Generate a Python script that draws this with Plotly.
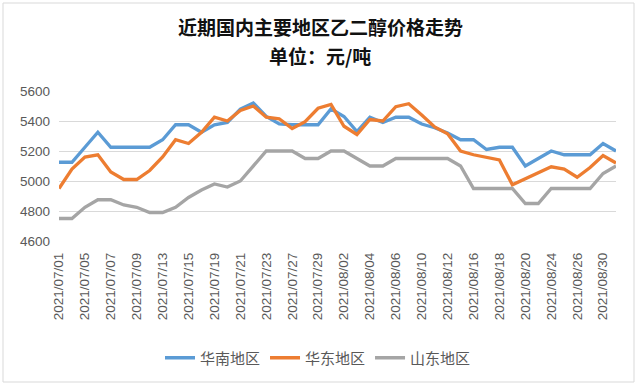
import plotly.graph_objects as go

dates = ["2021/07/01","2021/07/02","2021/07/05","2021/07/06","2021/07/07","2021/07/08","2021/07/09",
         "2021/07/12","2021/07/13","2021/07/14","2021/07/15","2021/07/16",
         "2021/07/19","2021/07/20","2021/07/21","2021/07/22","2021/07/23",
         "2021/07/26","2021/07/27","2021/07/28","2021/07/29","2021/07/30",
         "2021/08/02","2021/08/03","2021/08/04","2021/08/05","2021/08/06",
         "2021/08/09","2021/08/10","2021/08/11","2021/08/12","2021/08/13",
         "2021/08/16","2021/08/17","2021/08/18","2021/08/19","2021/08/20",
         "2021/08/23","2021/08/24","2021/08/25","2021/08/26","2021/08/27",
         "2021/08/30","2021/08/31"]

south_china = [5125,5125,5225,5325,5225,5225,5225,5225,5275,5375,5375,5325,5375,5390,5480,5520,
               5430,5380,5375,5375,5375,5480,5430,5330,5425,5390,5425,5425,5380,5355,5320,5275,
               5275,5210,5225,5225,5100,5150,5200,5175,5175,5175,5250,5200]
east_china = [4950,5080,5160,5175,5060,5010,5010,5070,5160,5275,5250,5325,5425,5400,5470,5500,
              5425,5415,5350,5395,5485,5510,5365,5310,5410,5400,5495,5515,5440,5360,5315,5200,
              5175,5155,5140,4975,5015,5060,5095,5080,5025,5090,5170,5120]
shandong = [4750,4750,4825,4875,4875,4840,4825,4790,4790,4825,4890,4940,4980,4960,5000,5100,
            5200,5200,5200,5150,5150,5200,5200,5150,5100,5100,5150,5150,5150,5150,5150,5100,
            4950,4950,4950,4950,4850,4850,4950,4950,4950,4950,5050,5100]

series_names = ["华南地区", "华东地区", "山东地区"]
series_colors = ["#5B9BD5", "#ED7D31", "#A5A5A5"]
tick_labels = dates[::2]
y_ticks = [4600, 4800, 5000, 5200, 5400, 5600]
title_lines = ["近期国内主要地区乙二醇价格走势", "单位：元/吨"]

fig = go.Figure()
for name, vals, col in zip(series_names, [south_china, east_china, shandong], series_colors):
    fig.add_trace(go.Scatter(x=dates, y=vals, name=name, mode="lines",
                             line=dict(color=col, width=3.3)))

L, R, T, B = 59, 24, 91, 145
W, H = 640, 386
pw, ph = W - L - R, H - T - B

def px(x):
    return (x - L) / pw

def py(y):
    return (H - B - y) / ph

title_font = dict(family="Noto Sans CJK SC", size=19, color="#111111", weight="bold")
annotations = [
    dict(text=title_lines[0], x=px(320), y=py(26), xref="paper", yref="paper",
         xanchor="center", yanchor="middle", showarrow=False, font=title_font),
    dict(text=title_lines[1], x=px(320), y=py(55), xref="paper", yref="paper",
         xanchor="center", yanchor="middle", showarrow=False, font=title_font),
]

fig.update_layout(
    width=W, height=H,
    margin=dict(l=L, r=R, t=T, b=B, autoexpand=False),
    paper_bgcolor="white", plot_bgcolor="white",
    annotations=annotations,
    xaxis=dict(type="category", tickmode="array", tickvals=tick_labels, ticktext=tick_labels,
               tickangle=-90, showgrid=False, showline=False, ticks="", automargin=False,
               tickfont=dict(family="Liberation Sans, Arial", size=13.5, color="#595959"),
               ticklabelstandoff=8),
    yaxis=dict(range=[4600, 5600], tickvals=y_ticks, showgrid=True, gridcolor="#D9D9D9",
               gridwidth=1, zeroline=False, showline=False, ticks="", automargin=False,
               tickfont=dict(family="Liberation Sans, Arial", size=13.5, color="#595959"),
               ticklabelstandoff=8),
    legend=dict(orientation="h", x=318 / W, xref="container", xanchor="center",
                y=1 - 358 / H, yref="container", yanchor="middle",
                font=dict(family="Noto Sans CJK SC", size=15, color="#595959"),
                itemwidth=30, tracegroupgap=0, bgcolor="rgba(0,0,0,0)"),
    shapes=[dict(type="rect", xref="paper", yref="paper",
                 x0=px(3), x1=px(634), y0=py(382), y1=py(3),
                 line=dict(color="#D9D9D9", width=1), fillcolor="rgba(0,0,0,0)", layer="below")],
)
fig.write_html("out.html", config={"displayModeBar": False},
               post_script="document.body.style.margin='0';document.body.style.padding='0';")
